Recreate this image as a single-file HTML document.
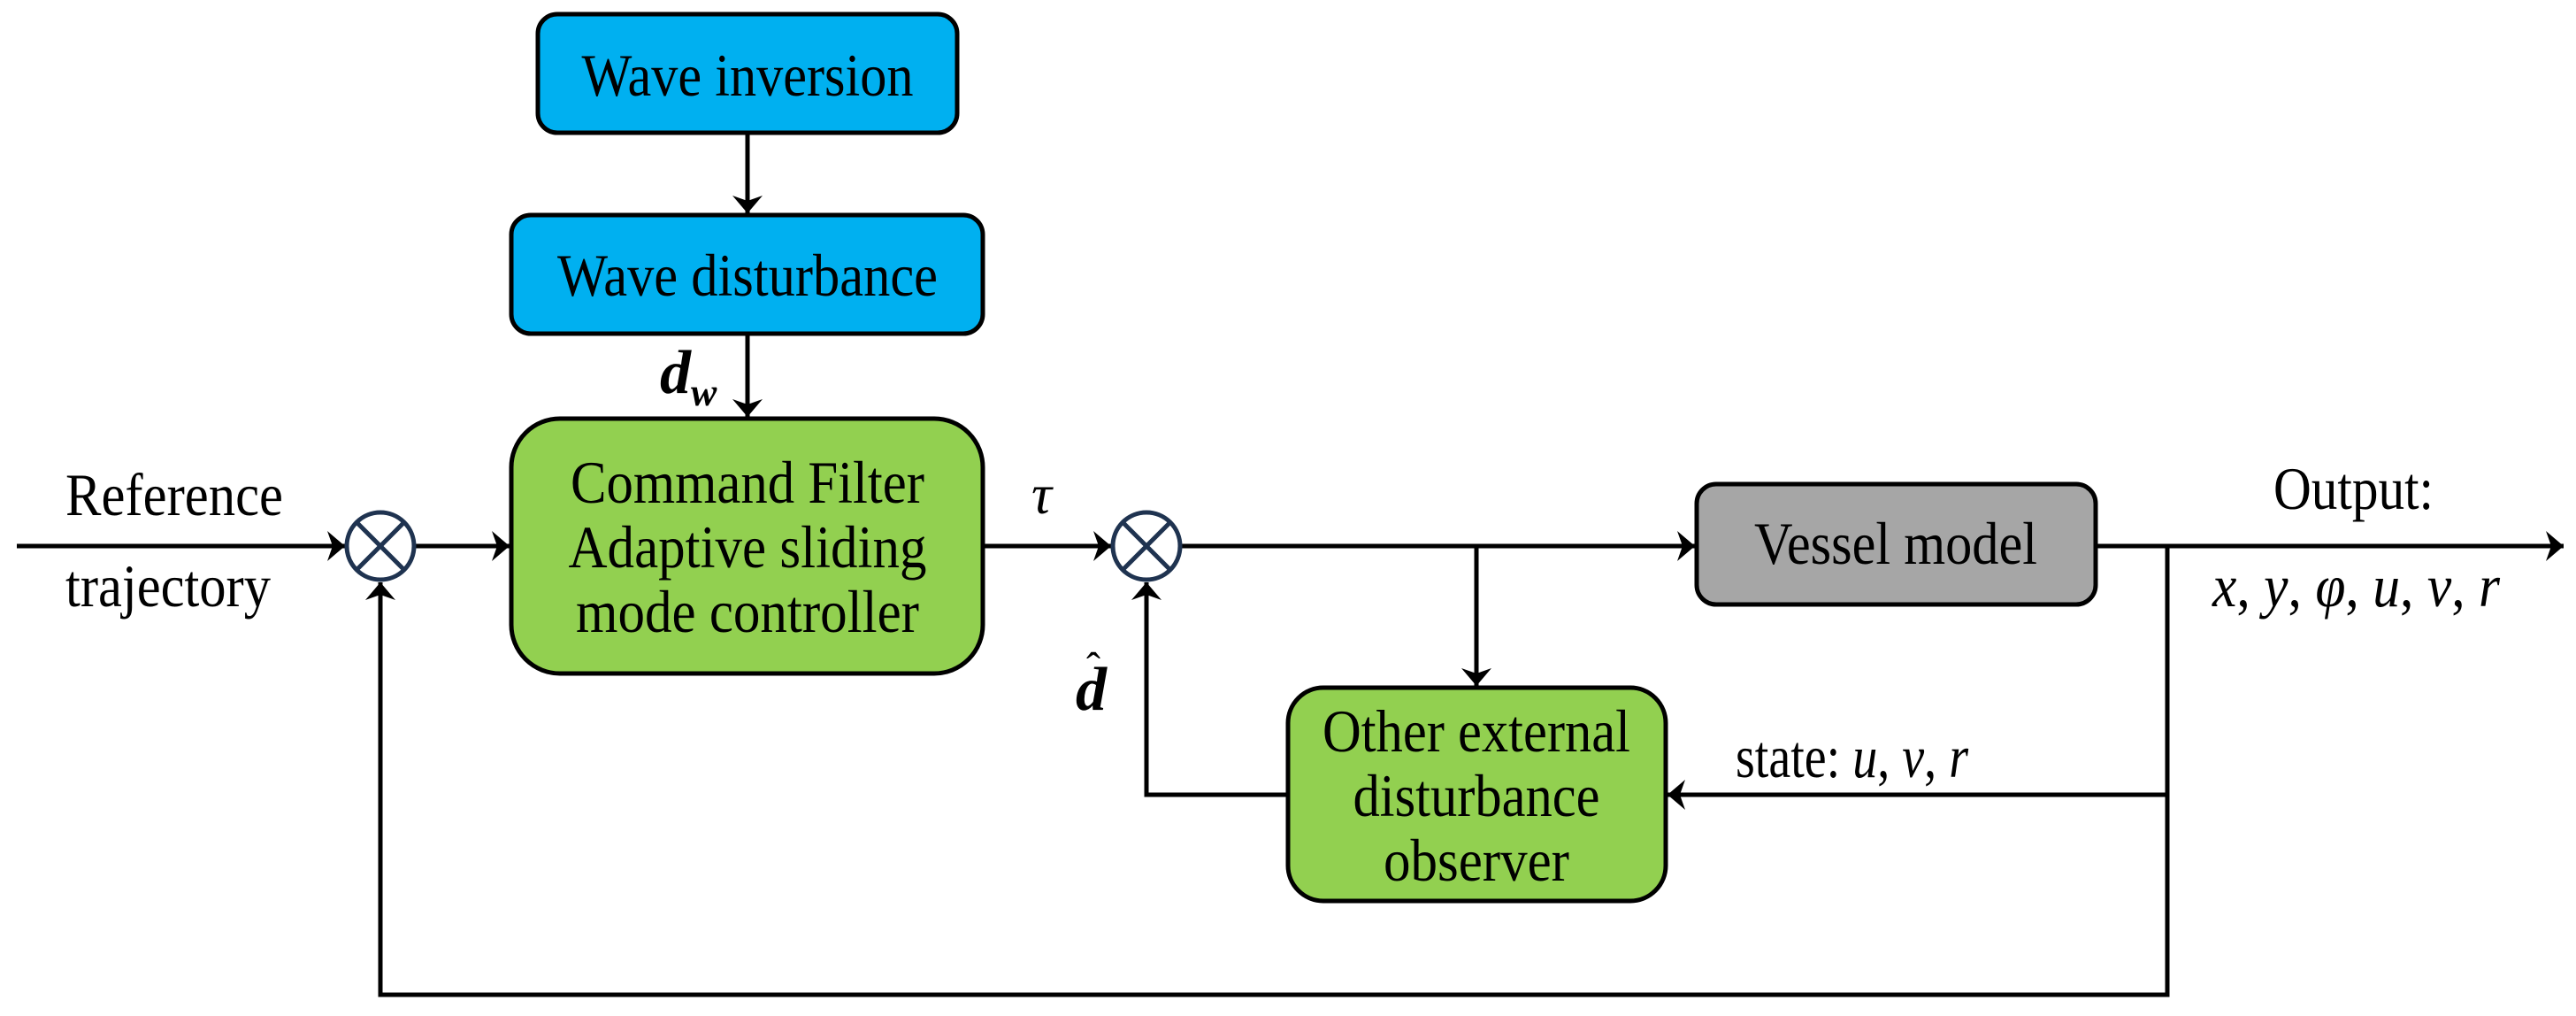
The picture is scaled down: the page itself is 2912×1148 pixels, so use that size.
<!DOCTYPE html>
<html><head><meta charset="utf-8"><style>
html,body{margin:0;padding:0;background:#fff;}
svg{display:block;}
</style></head><body>
<svg width="2912" height="1148" viewBox="0 0 2912 1148" xmlns="http://www.w3.org/2000/svg">
<defs>
<marker id="a" markerUnits="userSpaceOnUse" markerWidth="24" markerHeight="36" refX="20" refY="18" orient="auto">
<path d="M0,1 L20,18 L0,35 L6,18 Z" fill="#000"/>
</marker>
</defs>
<g stroke="#000" stroke-width="5" fill="none">
<rect x="608" y="16" width="474" height="134" rx="22" fill="#00b0f0"/>
<rect x="578" y="243" width="533" height="134" rx="22" fill="#00b0f0"/>
<rect x="578" y="473" width="533" height="288" rx="55" fill="#92d050"/>
<rect x="1918" y="547" width="451" height="136" rx="22" fill="#a6a6a6"/>
<rect x="1456" y="777" width="427" height="241" rx="40" fill="#92d050"/>
<line x1="845" y1="150" x2="845" y2="241" marker-end="url(#a)"/>
<line x1="845" y1="377" x2="845" y2="471" marker-end="url(#a)"/>
<line x1="19" y1="617" x2="390" y2="617" marker-end="url(#a)"/>
<line x1="470" y1="617" x2="576" y2="617" marker-end="url(#a)"/>
<line x1="1111" y1="617" x2="1256" y2="617" marker-end="url(#a)"/>
<line x1="1336" y1="617" x2="1916" y2="617" marker-end="url(#a)"/>
<line x1="1669" y1="617" x2="1669" y2="775" marker-end="url(#a)"/>
<line x1="2369" y1="617" x2="2898" y2="617" marker-end="url(#a)"/>
<polyline points="2450,617 2450,1124 430,1124 430,658" marker-end="url(#a)"/>
<line x1="2450" y1="898" x2="1885" y2="898" marker-end="url(#a)"/>
<polyline points="1456,898 1296,898 1296,658" marker-end="url(#a)"/>
</g>
<g stroke="#1f3350" stroke-width="5" fill="#fff">
<circle cx="430" cy="617" r="38"/>
<line x1="403" y1="590" x2="457" y2="644"/><line x1="457" y1="590" x2="403" y2="644"/>
<circle cx="1296" cy="617" r="38"/>
<line x1="1269" y1="590" x2="1323" y2="644"/><line x1="1323" y1="590" x2="1269" y2="644"/>
</g>
<g font-family="'Liberation Serif', 'Times New Roman', serif" font-size="68" fill="#000">
<text x="845" y="108" text-anchor="middle" textLength="375" lengthAdjust="spacingAndGlyphs">Wave inversion</text>
<text x="845" y="334" text-anchor="middle" textLength="430" lengthAdjust="spacingAndGlyphs">Wave disturbance</text>
<text x="845" y="568" text-anchor="middle" textLength="400" lengthAdjust="spacingAndGlyphs">Command Filter</text>
<text x="845" y="641" text-anchor="middle" textLength="405" lengthAdjust="spacingAndGlyphs">Adaptive sliding</text>
<text x="845" y="714" text-anchor="middle" textLength="388" lengthAdjust="spacingAndGlyphs">mode controller</text>
<text x="2143" y="637" text-anchor="middle" textLength="320" lengthAdjust="spacingAndGlyphs">Vessel model</text>
<text x="1669" y="849" text-anchor="middle" textLength="348" lengthAdjust="spacingAndGlyphs">Other external</text>
<text x="1669" y="922" text-anchor="middle" textLength="279" lengthAdjust="spacingAndGlyphs">disturbance</text>
<text x="1669" y="995" text-anchor="middle" textLength="210" lengthAdjust="spacingAndGlyphs">observer</text>
<text x="74" y="582" textLength="246" lengthAdjust="spacingAndGlyphs">Reference</text>
<text x="74" y="685" textLength="232" lengthAdjust="spacingAndGlyphs">trajectory</text>
<text x="2570" y="575" textLength="181" lengthAdjust="spacingAndGlyphs">Output:</text>
<text x="2501" y="685" textLength="325" lengthAdjust="spacingAndGlyphs"><tspan font-style="italic">x</tspan>, <tspan font-style="italic">y</tspan>, <tspan font-style="italic">φ</tspan>, <tspan font-style="italic">u</tspan>, <tspan font-style="italic">v</tspan>, <tspan font-style="italic">r</tspan></text>
<text x="1962" y="878" textLength="263" lengthAdjust="spacingAndGlyphs">state: <tspan font-style="italic">u</tspan>, <tspan font-style="italic">v</tspan>, <tspan font-style="italic">r</tspan></text>
<text x="1166" y="580" font-style="italic" font-size="64">τ</text>
<text x="746" y="444" font-style="italic" font-weight="bold" font-size="70">d<tspan font-size="44" dy="14">w</tspan></text>
<text x="1216" y="802" font-style="italic" font-weight="bold" font-size="70">d</text>
<text x="1228" y="770" font-size="48">ˆ</text>
</g>
</svg>
</body></html>
